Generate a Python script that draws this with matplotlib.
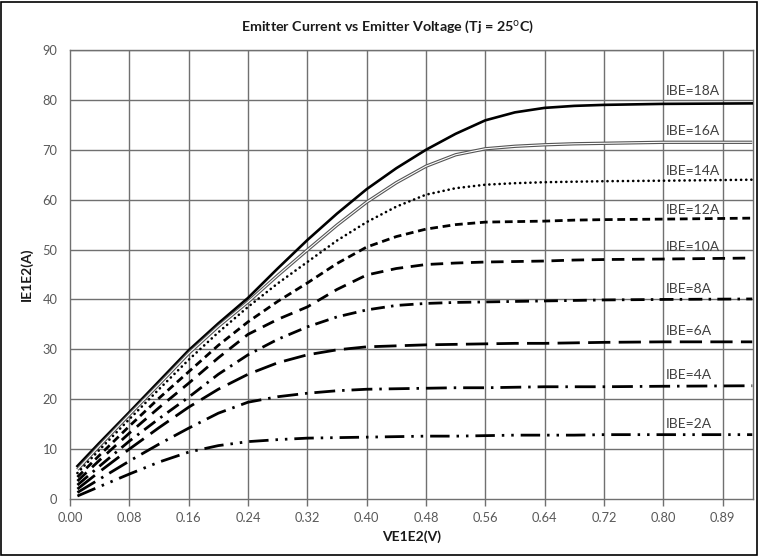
import matplotlib
matplotlib.use("Agg")
import matplotlib.pyplot as plt
from matplotlib.patches import Rectangle

plt.rcParams['font.family'] = ['Lato', 'DejaVu Sans']
plt.rcParams['lines.scale_dashes'] = False

# ---- data ----
vce = [0.01, 0.04, 0.08, 0.12, 0.16, 0.20, 0.24, 0.28, 0.32, 0.36, 0.40, 0.44, 0.48,
       0.52, 0.56, 0.60, 0.64, 0.68, 0.72, 0.80, 0.92]
ibe_18 = [6.6, 11.3, 17.4, 23.6, 29.8, 35.2, 40.3, 46.2, 51.9, 57.2, 62.1, 66.3, 70.0,
          73.2, 75.9, 77.5, 78.4, 78.8, 79.0, 79.2, 79.3]
ibe_16 = [5.9, 10.7, 16.9, 23.0, 29.2, 34.6, 39.5, 44.8, 49.9, 54.9, 59.5, 63.4, 66.7,
          69.0, 70.2, 70.7, 71.0, 71.2, 71.3, 71.5, 71.5]
ibe_14 = [5.2, 9.9, 16.0, 22.0, 27.9, 33.4, 38.5, 43.2, 47.5, 51.8, 55.5, 58.6, 61.0,
          62.3, 63.0, 63.3, 63.5, 63.6, 63.7, 63.8, 64.0]
ibe_12 = [4.4, 8.8, 14.6, 20.2, 25.5, 30.8, 35.5, 39.6, 43.3, 47.2, 50.5, 52.6, 54.1,
          55.0, 55.5, 55.6, 55.7, 55.9, 56.0, 56.1, 56.3]
ibe_10 = [3.6, 7.8, 13.2, 18.3, 23.2, 28.3, 33.0, 36.0, 38.5, 42.0, 44.9, 46.2, 47.0,
          47.3, 47.5, 47.6, 47.7, 47.9, 48.0, 48.1, 48.3]
ibe_8 = [2.8, 6.6, 11.6, 16.1, 20.4, 25.0, 28.9, 32.0, 34.5, 36.5, 37.9, 38.8, 39.2,
         39.4, 39.5, 39.6, 39.7, 39.8, 39.9, 40.0, 40.1]
ibe_6 = [2.0, 5.5, 10.0, 14.3, 18.4, 22.0, 25.0, 27.3, 28.9, 29.9, 30.5, 30.7, 30.9,
         31.0, 31.1, 31.2, 31.2, 31.3, 31.4, 31.5, 31.5]
ibe_4 = [1.3, 4.0, 7.6, 11.0, 14.2, 17.2, 19.4, 20.5, 21.2, 21.7, 22.0, 22.1, 22.2,
         22.3, 22.3, 22.4, 22.5, 22.5, 22.5, 22.6, 22.7]
ibe_2 = [0.6, 2.5, 5.0, 7.4, 9.4, 10.7, 11.5, 11.9, 12.2, 12.3, 12.4, 12.5, 12.6,
         12.6, 12.7, 12.8, 12.8, 12.8, 12.9, 12.9, 12.9]

series_labels = ["IBE=18A", "IBE=16A", "IBE=14A", "IBE=12A", "IBE=10A",
                 "IBE=8A", "IBE=6A", "IBE=4A", "IBE=2A"]
label_y = [81.8, 73.7, 65.7, 57.9, 50.5, 42.0, 33.7, 24.8, 15.0]

x_ticks = [0.00, 0.08, 0.16, 0.24, 0.32, 0.40, 0.48, 0.56, 0.64, 0.72, 0.80, 0.88]
x_ticklabels = ["0.00", "0.08", "0.16", "0.24", "0.32", "0.40", "0.48", "0.56",
                "0.64", "0.72", "0.80", "0.89"]
y_ticks = [0, 10, 20, 30, 40, 50, 60, 70, 80, 90]

# ---- figure ----
W, H = 759, 556
fig = plt.figure(figsize=(W / 100, H / 100), dpi=100)
ax = fig.add_axes([70 / W, 1 - 499 / H, (753 - 70) / W, (499 - 50) / H])

ax.set_xlim(0, 0.921)
ax.set_ylim(0, 90)

grid_c = '#707070'
for t in x_ticks[1:]:
    ax.axvline(t, color=grid_c, lw=1.0, zorder=1)
for t in y_ticks[1:]:
    ax.axhline(t, color=grid_c, lw=1.0, zorder=1)

styles = [
    dict(color='black', lw=1.9, ls='-'),
    None,  # double line handled separately
    dict(color='black', lw=1.9, dashes=(0.1, 3.6), dash_capstyle='round'),
    dict(color='black', lw=2.0, dashes=(5.6, 3.4)),
    dict(color='black', lw=2.0, dashes=(9.0, 5.5)),
    dict(color='black', lw=2.0, dashes=(10.0, 4.5, 1.8, 4.5)),
    dict(color='black', lw=2.0, dashes=(16.0, 6.0)),
    dict(color='black', lw=2.0, dashes=(15.0, 5.0, 1.8, 5.0)),
    dict(color='black', lw=2.0, dashes=(14.0, 5.0, 1.8, 5.0, 1.8, 5.0)),
]
data = [ibe_18, ibe_16, ibe_14, ibe_12, ibe_10, ibe_8, ibe_6, ibe_4, ibe_2]

for d, st in zip(data, styles):
    if st is None:
        ax.plot(vce, d, color='#555555', lw=2.4, solid_capstyle='butt', zorder=3)
        ax.plot(vce, d, color='white', lw=0.8, solid_capstyle='butt', zorder=3)
    else:
        ax.plot(vce, d, zorder=3, **st)

for lab, yy in zip(series_labels, label_y):
    ax.text(0.804, yy, lab, fontsize=10, color='#404040', ha='left', va='center', zorder=4)

ax.set_xticks(x_ticks)
ax.set_xticklabels(x_ticklabels)
ax.set_yticks(y_ticks)
ax.tick_params(axis='x', direction='out', length=5, width=1, color=grid_c,
               labelsize=9.3, labelcolor='#595959', pad=4)
ax.tick_params(axis='y', length=0, labelsize=9.3, labelcolor='#595959', pad=9)
for s in ax.spines.values():
    s.set_color(grid_c)
    s.set_linewidth(1.0)

ax.set_xlabel("VE1E2(V)", fontsize=10, fontweight='bold', color='#1a1a1a', labelpad=5)
ax.set_ylabel("IE1E2(A)", fontsize=10, fontweight='bold', color='#1a1a1a', labelpad=7)
fig.text(388 / W, 1 - 27 / H, "Emitter Current vs Emitter Voltage (Tj = 25$^{\\mathrm{o}}$C)",
         ha='center', va='center', fontsize=10.3, fontweight='bold', color='#1a1a1a')

fig.patches.append(Rectangle((1 / W, 1 / H), 1 - 3 / W, 1 - 3 / H, transform=fig.transFigure,
                             fill=False, edgecolor='black', lw=1.2))

fig.savefig("out.png", dpi=100)
